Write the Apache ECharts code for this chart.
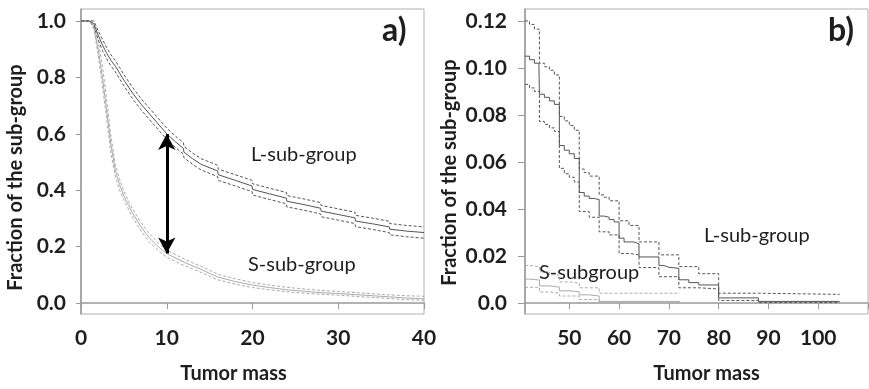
<!DOCTYPE html>
<html>
<head>
<meta charset="utf-8">
<script src="https://cdn.jsdelivr.net/npm/echarts@6/dist/echarts.min.js"></script>
<style>
  html, body { margin: 0; padding: 0; background: #fff; }
  #chart { width: 869px; height: 389px; }
</style>
</head>
<body>
<div id="chart"></div>
<script>
// PANEL A DATA (tumor mass 0..40)
const massL = [0, 1, 1.5, 2, 2.5, 3, 3.5, 4, 4.5, 5, 6, 7, 8, 9, 10, 11, 11.95, 12, 13, 14, 15.95, 16, 18, 19.95, 20, 22, 23.95, 24, 26, 27.95, 28, 30, 31.95, 32, 34, 35.95, 36, 38, 40];
const lMidA = [1, 1, 0.99, 0.95, 0.915, 0.885, 0.86, 0.84, 0.815, 0.79, 0.745, 0.705, 0.67, 0.635, 0.6, 0.572, 0.548, 0.535, 0.512, 0.492, 0.468, 0.455, 0.435, 0.415, 0.403, 0.387, 0.372, 0.361, 0.349, 0.336, 0.326, 0.314, 0.302, 0.291, 0.281, 0.27, 0.262, 0.255, 0.25];
const lUpA = [1, 1, 1, 0.965, 0.935, 0.905, 0.88, 0.86, 0.835, 0.81, 0.765, 0.725, 0.69, 0.655, 0.62, 0.592, 0.568, 0.555, 0.532, 0.512, 0.488, 0.475, 0.455, 0.435, 0.423, 0.407, 0.392, 0.381, 0.369, 0.356, 0.346, 0.334, 0.322, 0.311, 0.301, 0.29, 0.282, 0.275, 0.27];
const lLowA = [1, 1, 0.98, 0.935, 0.895, 0.865, 0.84, 0.82, 0.795, 0.77, 0.725, 0.685, 0.65, 0.615, 0.58, 0.552, 0.528, 0.515, 0.492, 0.472, 0.448, 0.435, 0.415, 0.395, 0.383, 0.367, 0.352, 0.341, 0.329, 0.316, 0.306, 0.294, 0.282, 0.271, 0.261, 0.25, 0.242, 0.235, 0.23];
const massS = [0, 1, 1.5, 2, 2.5, 3, 3.5, 4, 4.5, 5, 6, 7, 8, 9, 10, 11, 12, 13, 14, 15, 16, 18, 20, 22, 24, 26, 28, 30, 32, 34, 36, 38, 40];
const sMidA = [1, 1, 0.98, 0.9, 0.8, 0.68, 0.56, 0.47, 0.42, 0.38, 0.32, 0.27, 0.23, 0.2, 0.175, 0.16, 0.145, 0.132, 0.12, 0.105, 0.092, 0.076, 0.064, 0.055, 0.047, 0.042, 0.037, 0.034, 0.03, 0.026, 0.022, 0.018, 0.015];
const sUpA = [1, 1, 0.99, 0.93, 0.84, 0.72, 0.59, 0.49, 0.44, 0.395, 0.335, 0.285, 0.245, 0.213, 0.188, 0.172, 0.157, 0.143, 0.131, 0.116, 0.102, 0.086, 0.073, 0.064, 0.056, 0.05, 0.045, 0.041, 0.037, 0.033, 0.029, 0.026, 0.024];
const sLowA = [1, 1, 0.97, 0.88, 0.77, 0.65, 0.53, 0.45, 0.4, 0.365, 0.305, 0.255, 0.215, 0.187, 0.162, 0.148, 0.133, 0.121, 0.109, 0.095, 0.082, 0.067, 0.055, 0.047, 0.04, 0.035, 0.031, 0.028, 0.024, 0.02, 0.016, 0.012, 0.01];
const arrowA = [[10, 0.176], [10, 0.599]];

// PANEL B DATA (tumor mass 41..104, step curves)
const lMidBx = [41.1, 42, 43, 43.9, 44, 45, 46, 47, 48, 49, 50, 51, 52, 53, 54, 55, 56, 57, 58, 59, 60, 61, 63, 64, 68, 69, 70, 72, 74, 76, 80, 88, 104.3];
const lMidBy = [0.105, 0.1035, 0.102, 0.1007, 0.0888, 0.0875, 0.086, 0.0845, 0.067, 0.065, 0.0635, 0.0615, 0.047, 0.0455, 0.0445, 0.044, 0.037, 0.0365, 0.0355, 0.0345, 0.0276, 0.026, 0.0252, 0.0196, 0.016, 0.0152, 0.0148, 0.0099, 0.0087, 0.0077, 0.0022, 0.0007, 0.0007];
const lUpBx = [41.1, 42, 43, 44, 45, 46, 47, 48, 49, 50, 51, 52, 53, 54, 56, 57, 58, 60, 62, 64, 68, 72, 76, 80, 88, 104.3];
const lUpBy = [0.12, 0.1185, 0.1165, 0.102, 0.1005, 0.099, 0.097, 0.0794, 0.0775, 0.0755, 0.0735, 0.057, 0.0555, 0.054, 0.046, 0.045, 0.0435, 0.035, 0.033, 0.026, 0.0205, 0.0155, 0.0125, 0.0042, 0.0037, 0.0035];
const lLowBx = [41.1, 42, 43, 44, 45, 46, 47, 48, 49, 50, 51, 52, 54, 56, 58, 60, 62, 64, 68, 72, 76, 80, 88, 104.3];
const lLowBy = [0.093, 0.0915, 0.09, 0.0772, 0.076, 0.0745, 0.073, 0.0573, 0.055, 0.0535, 0.0515, 0.0389, 0.0365, 0.0303, 0.029, 0.0211, 0.0205, 0.0151, 0.0112, 0.0065, 0.006, 0.0011, 0.0002, 0.0002];
const sMidBx = [41.1, 42, 44, 46, 48, 50, 52, 54, 56, 72.2];
const sMidBy = [0.0102, 0.0098, 0.0073, 0.0068, 0.0052, 0.0048, 0.0035, 0.003, 0.0007, 0.0007];
const sUpBx = [41.1, 42, 44, 46, 48, 50, 52, 56, 72.2];
const sUpBy = [0.016, 0.0155, 0.0133, 0.012, 0.009, 0.0085, 0.0065, 0.0042, 0.0042];
const sLowBx = [41.1, 44, 46, 48, 52, 56, 72.2];
const sLowBy = [0.0067, 0.0047, 0.0042, 0.003, 0.0015, 0.0003, 0.0003];

const ticksA = [0, 0.2, 0.4, 0.6, 0.8, 1.0];
const ticksB = [0, 0.02, 0.04, 0.06, 0.08, 0.1, 0.12];
const massTicksB = [50, 60, 70, 80, 90, 100];

const zip = (xs, ys) => xs.map((x, i) => [x, ys[i]]);

const darkLine = '#555555';
const lightLine = '#ababab';
const textColor = '#1e1e1e';
const fontFamily = 'Lato';

function curve(name, xIdx, xs, ys, color, dashed, step) {
    return {
        name: name,
        type: 'line',
        xAxisIndex: xIdx,
        yAxisIndex: xIdx,
        data: zip(xs, ys),
        step: step ? 'end' : false,
        showSymbol: false,
        silent: true,
        animation: false,
        lineStyle: {
            color: color,
            width: 1,
            type: dashed ? [3, 2] : 'solid'
        },
        z: dashed ? 2 : 3
    };
}

const axisLabelStyle = {
    color: textColor,
    fontFamily: fontFamily,
    fontWeight: 'bold',
    fontSize: 21
};
const nameStyle = (padding) => ({
    color: textColor,
    fontFamily: fontFamily,
    fontWeight: 'bold',
    fontSize: 20,
    padding: padding
});
const axisLineStyle = { lineStyle: { color: '#999999', width: 1.5 } };

const chart = echarts.init(document.getElementById('chart'), null, { renderer: 'canvas' });

const option = {
    animation: false,
    backgroundColor: '#ffffff',
    grid: [
        { left: 81, top: 9, width: 343, height: 307, show: true, borderColor: '#b0b0b0', borderWidth: 1, containLabel: false },
        { left: 525, top: 9, width: 343, height: 307, show: true, borderColor: '#b0b0b0', borderWidth: 1, containLabel: false }
    ],
    xAxis: [
        {
            type: 'value', gridIndex: 0, min: 0, max: 40, interval: 10,
            splitLine: { show: false },
            axisLine: axisLineStyle,
            axisTick: { length: 6, lineStyle: { color: '#999999' } },
            axisLabel: Object.assign({ margin: 14 }, axisLabelStyle),
            name: 'Tumor mass', nameLocation: 'middle', nameGap: 50,
            nameTextStyle: nameStyle([0, 38, 0, 0])
        },
        {
            type: 'value', gridIndex: 1, min: 41.1, max: 110,
            splitLine: { show: false },
            axisLine: axisLineStyle,
            axisTick: { length: 6, lineStyle: { color: '#999999' }, customValues: massTicksB.concat([110]) },
            axisLabel: Object.assign({ margin: 14, customValues: massTicksB }, axisLabelStyle),
            name: 'Tumor mass', nameLocation: 'middle', nameGap: 50,
            nameTextStyle: nameStyle([0, 0, 0, 20])
        }
    ],
    yAxis: [
        {
            type: 'value', gridIndex: 0, min: -0.0387, max: 1.0423,
            splitLine: { show: false },
            axisLine: { show: true, lineStyle: { color: '#999999', width: 1.5 } },
            axisTick: { show: true, length: 5, lineStyle: { color: '#999999' }, customValues: ticksA },
            axisLabel: Object.assign({ margin: 15, customValues: ticksA, formatter: v => v.toFixed(1) }, axisLabelStyle),
            name: 'Fraction of the sub-group', nameLocation: 'middle', nameGap: 55, nameRotate: 90,
            nameTextStyle: nameStyle([0, 32, 0, 0])
        },
        {
            type: 'value', gridIndex: 1, min: -0.00465, max: 0.12507,
            splitLine: { show: false },
            axisLine: { show: true, lineStyle: { color: '#999999', width: 1.5 } },
            axisTick: { show: true, length: 7, lineStyle: { color: '#999999' }, customValues: ticksB },
            axisLabel: Object.assign({ margin: 18, customValues: ticksB, formatter: v => (v === 0 ? '0.0' : v.toFixed(2)) }, axisLabelStyle),
            name: 'Fraction of the sub-group', nameLocation: 'middle', nameGap: 65, nameRotate: 90,
            nameTextStyle: nameStyle([0, 22, 0, 0])
        }
    ],
    series: [
        curve('S upper', 0, massS, sUpA, lightLine, true, false),
        curve('S lower', 0, massS, sLowA, lightLine, true, false),
        curve('S', 0, massS, sMidA, lightLine, false, false),
        curve('L upper', 0, massL, lUpA, darkLine, true, false),
        curve('L lower', 0, massL, lLowA, darkLine, true, false),
        Object.assign(curve('L', 0, massL, lMidA, darkLine, false, false), {
            markLine: {
                silent: true,
                symbol: ['arrow', 'arrow'],
                symbolSize: [13, 16],
                label: { show: false },
                lineStyle: { color: '#000000', width: 3, type: 'solid' },
                data: [[{ coord: arrowA[0] }, { coord: arrowA[1] }]]
            }
        }),
        curve('S upper b', 1, sUpBx, sUpBy, lightLine, true, true),
        curve('S lower b', 1, sLowBx, sLowBy, lightLine, true, true),
        curve('S b', 1, sMidBx, sMidBy, lightLine, false, true),
        curve('L upper b', 1, lUpBx, lUpBy, darkLine, true, true),
        curve('L lower b', 1, lLowBx, lLowBy, darkLine, true, true),
        curve('L b', 1, lMidBx, lMidBy, darkLine, false, true)
    ],
    graphic: [
        { type: 'text', left: 382, top: 15, style: { text: 'a)', fontFamily: fontFamily, fontWeight: 'bold', fontSize: 32, fill: textColor } },
        { type: 'text', left: 828, top: 15, style: { text: 'b)', fontFamily: fontFamily, fontWeight: 'bold', fontSize: 32, fill: textColor } },
        { type: 'text', left: 251, top: 145, style: { text: 'L-sub-group', fontFamily: fontFamily, fontSize: 20, fill: textColor } },
        { type: 'text', left: 248, top: 255, style: { text: 'S-sub-group', fontFamily: fontFamily, fontSize: 20, fill: textColor } },
        { type: 'text', left: 704, top: 226, style: { text: 'L-sub-group', fontFamily: fontFamily, fontSize: 20, fill: textColor } },
        { type: 'text', left: 539, top: 263, style: { text: 'S-subgroup', fontFamily: fontFamily, fontSize: 20, fill: textColor } }
    ]
};

chart.setOption(option);
</script>
</body>
</html>
